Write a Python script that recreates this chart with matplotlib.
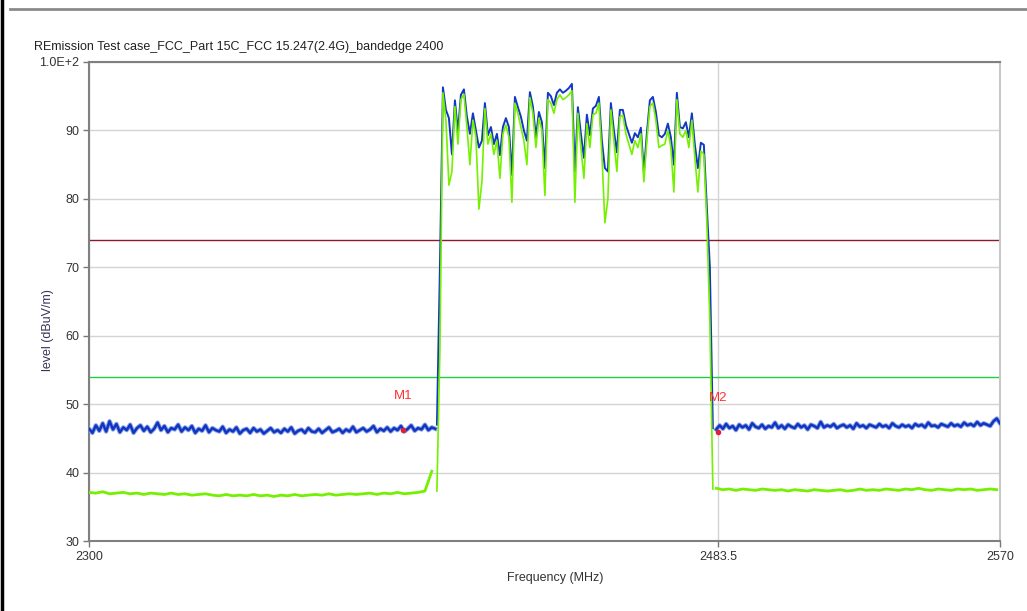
import numpy as np
from matplotlib import pyplot as plt
from matplotlib.lines import Line2D

plt.rcParams['font.family'] = ['Liberation Sans Narrow', 'Liberation Sans', 'DejaVu Sans']

title = "REmission Test case_FCC_Part 15C_FCC 15.247(2.4G)_bandedge 2400"

# noise floor, peak trace (blue), 1 MHz steps
left_peak_start = 2300.0
left_peak = [46.4, 45.8, 46.9, 46.1, 47.2, 46.0, 47.5, 46.3, 47.1, 45.9,
             46.6, 46.2, 47.0, 45.8, 46.5, 46.9, 46.1, 46.7, 45.9, 46.4,
             47.3, 46.2, 46.8, 45.9, 46.5, 46.3, 47.0, 46.0, 46.6, 46.2,
             46.8, 45.8, 46.4, 46.1, 46.9, 45.9, 46.5, 46.2, 46.0, 46.7,
             45.8, 46.3, 46.0, 46.6, 45.7, 46.2, 46.4, 45.8, 46.5, 46.0,
             46.3, 45.7, 46.1, 46.5, 45.9, 46.2, 45.8, 46.4, 46.0, 46.6,
             45.7, 46.1, 46.3, 45.8, 46.5, 46.0, 45.9, 46.4, 45.8, 46.2,
             46.6, 45.9, 46.1, 46.4, 45.8, 46.3, 46.0, 46.7, 45.9, 46.2,
             46.5, 46.0, 46.3, 46.8, 45.9, 46.4, 46.1, 46.6, 46.0, 46.5,
             46.2, 46.8, 46.0, 46.4, 46.9, 46.1, 46.5, 46.3, 47.0, 46.2,
             46.6, 46.4]
right_peak_start = 2483.0
right_peak = [46.3, 46.9, 46.4, 47.1, 46.5, 46.8, 46.2, 47.0, 46.6, 46.9,
              46.3, 47.2, 46.7, 46.5, 47.0, 46.4, 46.8, 46.6, 47.3, 46.5,
              46.9, 46.4, 47.0, 46.7, 46.5, 47.1, 46.6, 46.9, 46.3, 47.0,
              46.8, 46.5, 47.4, 46.6, 46.9, 46.7, 47.1, 46.5, 46.8, 47.0,
              46.6, 46.9, 46.4, 47.2, 46.7, 46.9, 46.5, 47.0, 46.8, 46.6,
              47.1, 46.7, 46.9, 46.5, 47.2, 46.8, 46.6, 47.0, 46.7, 46.9,
              46.5, 47.1, 46.8, 47.0, 46.6, 47.3, 46.8, 46.9, 46.6, 47.1,
              46.9, 46.7, 47.2, 46.8, 47.0, 46.7, 47.3, 46.9, 47.1, 46.8,
              47.4, 46.9, 47.2, 47.0, 46.8, 47.5, 47.9, 47.2]

# noise floor, average trace (green), 2 MHz steps
left_avg_start = 2300.0
left_avg = [37.1, 37.0, 37.2, 36.9, 37.0, 37.1, 36.9, 37.0, 36.8, 37.0,
            36.9, 36.8, 37.0, 36.8, 36.9, 36.7, 36.8, 36.9, 36.7, 36.6,
            36.8, 36.6, 36.7, 36.6, 36.8, 36.6, 36.7, 36.5, 36.7, 36.6,
            36.8, 36.6, 36.7, 36.8, 36.7, 36.9, 36.7, 36.8, 36.9, 36.8,
            36.9, 37.0, 36.8, 37.0, 36.9, 37.1, 36.9, 37.0, 37.1, 37.3, 40.2]
right_avg_start = 2483.0
right_avg = [37.7, 37.5, 37.6, 37.4, 37.6, 37.5, 37.4, 37.6, 37.5, 37.4,
             37.5, 37.3, 37.5, 37.4, 37.3, 37.5, 37.4, 37.3, 37.4, 37.5,
             37.3, 37.4, 37.6, 37.4, 37.5, 37.4, 37.6, 37.5, 37.4, 37.6,
             37.5, 37.7, 37.5, 37.4, 37.6, 37.5, 37.4, 37.6, 37.5, 37.6,
             37.4, 37.5, 37.6, 37.5]

# in-band signal, 2401.5 .. 2482 MHz
band_start = 2401.5
band_stop = 2482.0
band_peak = [47.0, 70.0, 96.3, 93.0, 91.8, 86.5, 94.4, 89.8, 95.2, 96.0,
             92.0, 89.5, 92.5, 90.0, 87.5, 88.5, 94.0, 89.3, 90.5, 88.0,
             89.5, 86.4, 90.5, 91.8, 90.5, 83.5, 94.9, 93.4, 92.0, 90.0,
             88.5, 95.6, 93.5, 89.0, 92.7, 91.2, 84.5, 95.5, 95.0, 93.7,
             95.5, 96.0, 95.5, 95.8, 96.2, 96.8, 84.0, 93.4, 89.5, 86.0,
             92.3, 89.3, 93.2, 93.6, 94.9, 88.5, 84.5, 84.0, 94.0, 90.0,
             86.8, 93.0, 93.0, 90.8, 89.5, 88.2, 89.6, 89.0, 90.4, 83.9,
             89.6, 94.4, 94.9, 92.7, 89.3, 89.0, 89.5, 91.0, 89.0, 85.0,
             95.5, 90.5, 90.3, 91.2, 89.0, 92.5, 87.9, 84.5, 88.2, 87.9,
             78.7, 70.0, 46.5]
band_avg = [37.3, 58.0, 95.5, 91.5, 82.0, 84.0, 93.5, 88.0, 94.5, 95.3,
            90.5, 85.0, 91.5, 89.0, 78.5, 82.5, 93.2, 88.0, 89.5, 86.5,
            88.5, 83.0, 89.5, 90.8, 89.0, 79.5, 94.0, 92.5, 90.5, 88.5,
            85.0, 94.8, 92.5, 87.5, 91.8, 90.0, 80.5, 94.5, 94.0, 92.5,
            94.5, 95.2, 94.5, 94.8, 95.2, 95.8, 79.5, 92.5, 87.5, 83.0,
            91.0, 87.5, 92.3, 92.5, 94.0, 86.5, 76.5, 80.0, 93.0, 88.5,
            84.0, 92.0, 92.2, 89.5, 88.0, 86.5, 88.5, 87.5, 89.5, 82.5,
            88.5, 93.5, 94.0, 91.5, 87.5, 87.8, 88.0, 90.0, 87.5, 81.0,
            94.5, 89.5, 89.0, 90.0, 87.5, 91.5, 86.0, 81.0, 87.0, 86.5,
            76.5, 62.0, 37.6]

peak_limit = 74.0
avg_limit = 54.0

markers = ["M1", "M2"]
marker_freq = [2391.6, 2483.5]
marker_level = [46.2, 45.9]

x_ticks = [2300, 2483.5, 2570]
x_labels = ["2300", "2483.5", "2570"]
y_ticks = [30, 40, 50, 60, 70, 80, 90, 100]
y_labels = ["30", "40", "50", "60", "70", "80", "90", "1.0E+2"]


# the analyser draws the band-edge tick in its own place: two linear pieces
def fwd(x):
    x = np.asarray(x, float)
    return np.where(x <= 2483.5, (x - 2300) * 629 / 183.5,
                    629 + (x - 2483.5) * 282 / 86.5)


def inv(u):
    u = np.asarray(u, float)
    return np.where(u <= 629, 2300 + u * 183.5 / 629,
                    2483.5 + (u - 629) * 86.5 / 282)


def trace(start, step, values):
    return start + step * np.arange(len(values)), np.array(values)


fig = plt.figure(figsize=(10.27, 6.11), dpi=100)
ax = fig.add_axes([89 / 1027, 1 - 541 / 611, 911 / 1027, 479 / 611])
ax.set_xscale('function', functions=(fwd, inv))

band_f = np.linspace(band_start, band_stop, len(band_peak))

ax.axhline(peak_limit, color='#8b1a2a', lw=1.0, zorder=2)
ax.axhline(avg_limit, color='#22cc44', lw=1.0, zorder=2)

# floors drawn a bit heavier, they are dense sweeps in the original
for start, vals in [(left_peak_start, left_peak), (right_peak_start, right_peak)]:
    f, v = trace(start, 1.0, vals)
    ax.plot(f, v, color='#8da2e6', lw=3.2, zorder=3)
    ax.plot(f, v, color='#0f36c0', lw=1.8, zorder=3)
for start, vals in [(left_avg_start, left_avg), (right_avg_start, right_avg)]:
    f, v = trace(start, 2.0, vals)
    ax.plot(f, v, color='#74f000', lw=2.0, zorder=4)

ax.plot(band_f, band_peak, color='#1238c4', lw=1.4, zorder=3)
ax.plot(band_f, band_avg, color='#74f000', lw=1.2, zorder=4)

for name, f, v in zip(markers, marker_freq, marker_level):
    ax.plot(f, v, 'o', color='#e0203a', ms=3, zorder=5)
    ax.text(f, v + 5.0, name, color='#ff3030', fontsize=9.5,
            ha='center', va='center', zorder=6)

ax.set_xlim(2300, 2570)
ax.set_ylim(30, 100)
ax.set_xticks(x_ticks)
ax.set_xticklabels(x_labels)
ax.set_yticks(y_ticks)
ax.set_yticklabels(y_labels)
ax.grid(True, color='#d4d4d4', lw=1.0)
ax.set_axisbelow(True)
ax.tick_params(direction='out', length=4, width=1, color='#777777',
               labelsize=9, labelcolor='#333333', pad=3)
for side in ['left', 'bottom', 'top']:
    ax.spines[side].set_color('#808080')
    ax.spines[side].set_linewidth(1.5)
ax.spines['right'].set_color('#c8c8c8')
ax.spines['right'].set_linewidth(1.5)

fig.text(555 / 1027, 1 - 578 / 611, "Frequency (MHz)", fontsize=9,
         color='#333333', ha='center', va='center')
fig.text(48 / 1027, 1 - 330 / 611, "level (dBuV/m)", fontsize=9,
         color='#3a3358', rotation=90, ha='center', va='center')
fig.text(34 / 1027, 1 - 47 / 611, title, fontsize=9, color='#222222',
         ha='left', va='center')

fig.add_artist(Line2D([10 / 1027, 1], [1 - 8.5 / 611] * 2, color='#8a8a8a',
                      lw=2, transform=fig.transFigure))
fig.add_artist(Line2D([0.0015, 0.0015], [0, 1], color='black', lw=2.5,
                      transform=fig.transFigure))

fig.savefig("out.png", dpi=100)
